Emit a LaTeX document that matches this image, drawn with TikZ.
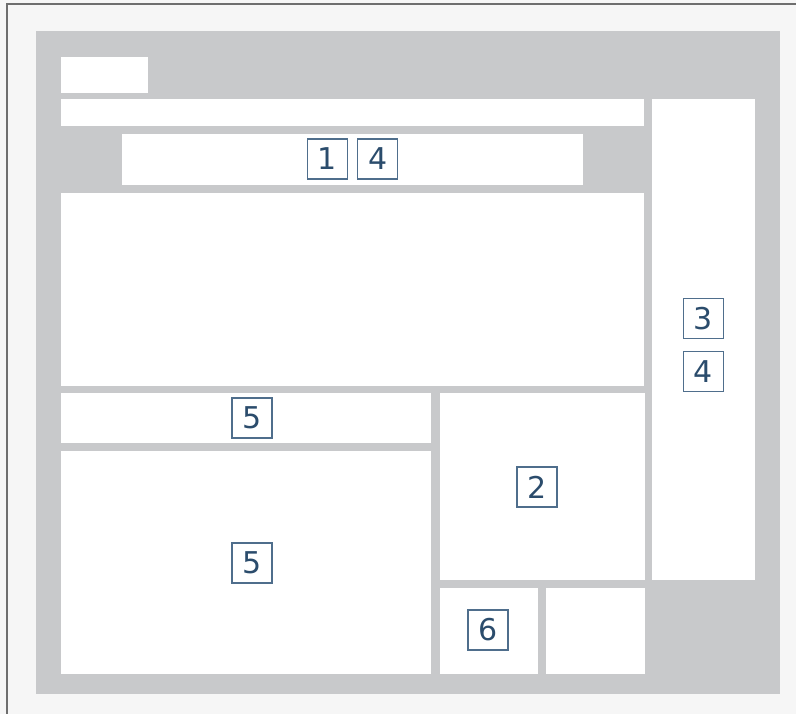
\documentclass[tikz,border=0pt]{standalone}
\usepackage{fontspec}
\setmainfont{DejaVu Sans}
\usepackage{tikz}
\usetikzlibrary{positioning}

\definecolor{pagebg}{HTML}{F6F6F6}
\definecolor{framegray}{HTML}{C8C9CB}
\definecolor{edgegray}{HTML}{6E6E6E}
\definecolor{tagblue}{HTML}{4F6E8C}
\definecolor{tagtext}{HTML}{2B4C6C}

\begin{document}
\begin{tikzpicture}[
    x=0.5pt, y=-0.5pt,
    panel/.style={fill=white},
    tag/.style={
        rectangle,draw=tagblue,line width=0.6pt,fill=white,
        minimum width=20pt,
        minimum height=20pt,
        inner sep=0pt,
        text=tagtext,
        font=\fontsize{15}{15}\selectfont
    }
]
\useasboundingbox (0,0) rectangle (796,714);
\fill[pagebg] (0,0) rectangle (796,714);
\draw[edgegray,line width=0.8pt] (796,4) -- (7,4) -- (7,714);
\fill[framegray] (36,31) rectangle (780,694);

% panels
\fill[panel] (61,57) rectangle (148,93);
\fill[panel] (61,99) rectangle (644,126);
\fill[panel] (122,134) rectangle (583,185);
\fill[panel] (61,193) rectangle (644,386);
\fill[panel] (652,99) rectangle (755,580);
\fill[panel] (61,393) rectangle (431,443);
\fill[panel] (61,451) rectangle (431,674);
\fill[panel] (440,393) rectangle (645,580);
\fill[panel] (440,588) rectangle (538,674);
\fill[panel] (546,588) rectangle (645,674);

% tags
\node[tag] (t1) at (327.5,159) {1};
\node[tag, right=4.5pt of t1] (t4a) {4};
\node[tag] (t3) at (703.5,318.5) {3};
\node[tag, below=6pt of t3] (t4b) {4};
\node[tag] (t5a) at (252,418) {5};
\node[tag] (t2) at (537,487) {2};
\node[tag] (t5b) at (252,563) {5};
\node[tag] (t6) at (488,630) {6};
\end{tikzpicture}
\end{document}
